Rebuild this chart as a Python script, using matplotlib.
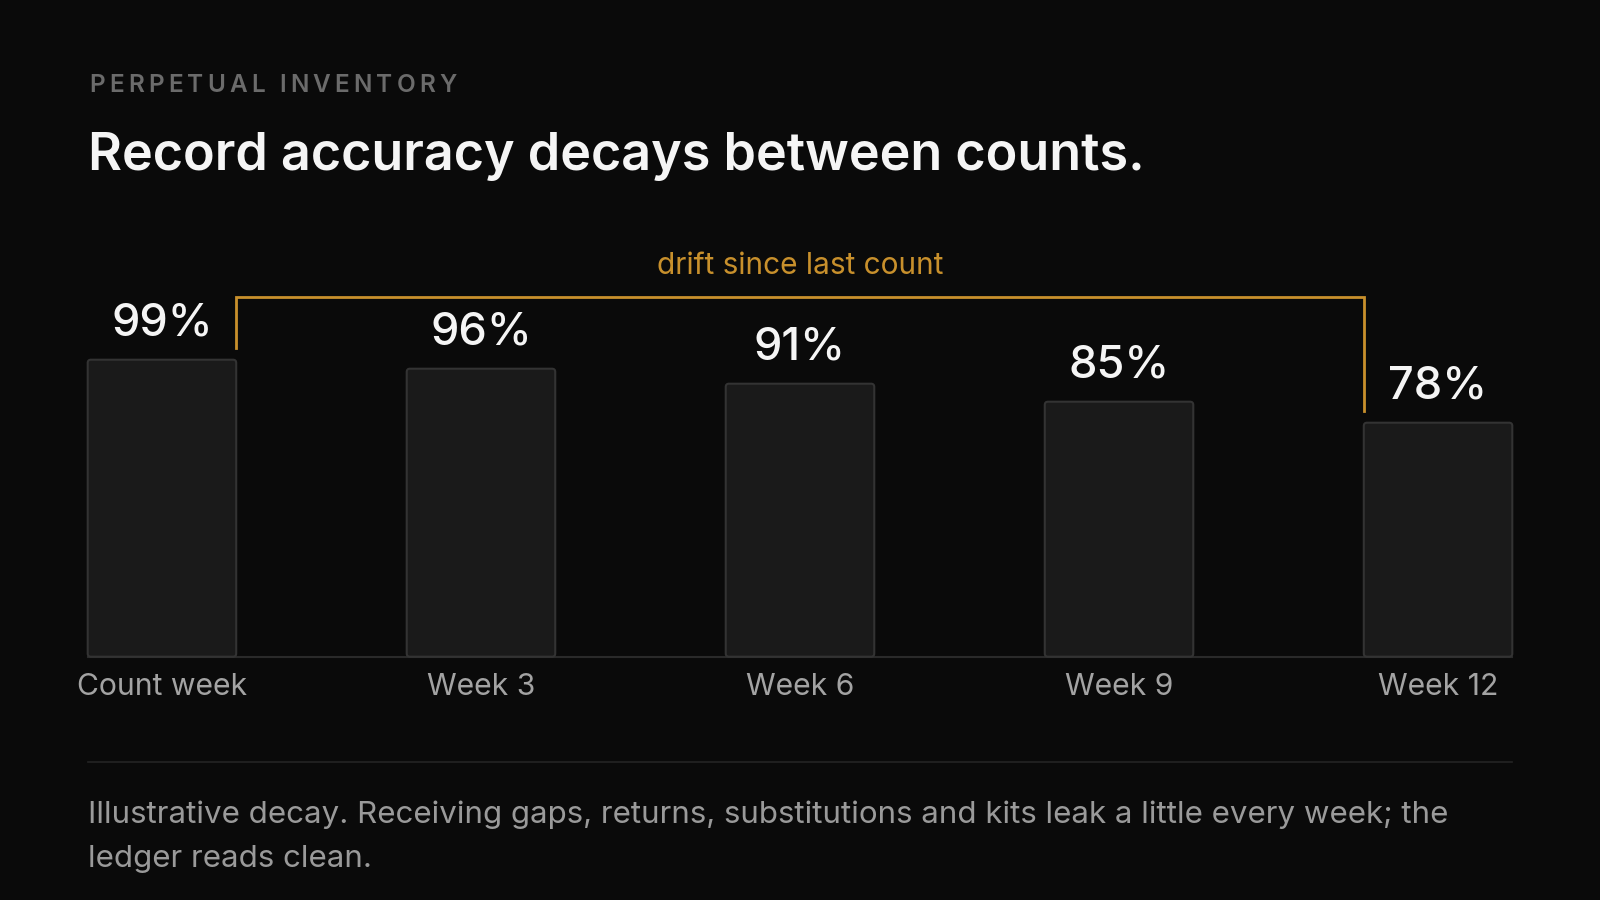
import matplotlib
matplotlib.use("Agg")
import matplotlib.pyplot as plt
from matplotlib.patches import FancyBboxPatch
from matplotlib.lines import Line2D

categories = ["Count week", "Week 3", "Week 6", "Week 9", "Week 12"]
accuracy = [99, 96, 91, 85, 78]
value_labels = ["99%", "96%", "91%", "85%", "78%"]
eyebrow = "PERPETUAL INVENTORY"
title = "Record accuracy decays between counts."
bracket_label = "drift since last count"
footnote_lines = [
    "Illustrative decay. Receiving gaps, returns, substitutions and kits leak a little every week; the",
    "ledger reads clean.",
]

BG = "#0a0a0a"
BAR = "#1a1a1a"
EDGE = "#333333"
GOLD = "#c8902c"
FONT = ["Inter", "DejaVu Sans"]

plt.rcParams["font.family"] = FONT

W, H = 1600, 900
fig = plt.figure(figsize=(16, 9), dpi=100, facecolor=BG)

def px(x, y):
    return x / W, 1 - y / H

left_px, right_px = 87.7, 1512.3
base_px, top_px = 656.7, 356.7
ax = fig.add_axes([left_px / W, 1 - base_px / H, (right_px - left_px) / W, (base_px - top_px) / H])
ax.set_facecolor(BG)
ax.patch.set_alpha(0)
for s in ax.spines.values():
    s.set_visible(False)
ax.set_xticks([])
ax.set_yticks([])

bw = 0.4655
n = len(categories)
ax.set_xlim(-bw / 2, n - 1 + bw / 2)
ax.set_ylim(0, 100)

# baseline
ax.plot([-bw / 2, n - 1 + bw / 2], [0, 0], color="#2a2a2a", lw=1.5, zorder=1, clip_on=False)

# data units per pixel: x = 4.4655/1424.6, y = 100/300
aspect = (100 / 300) / (4.4655 / 1424.6)
for i, v in enumerate(accuracy):
    p = FancyBboxPatch((i - bw / 2, 0), bw, v,
                       boxstyle="round,pad=0,rounding_size=0.01",
                       mutation_aspect=aspect,
                       facecolor=BAR, edgecolor=EDGE, lw=1.5, zorder=2, clip_on=False)
    ax.add_patch(p)
    ax.text(i, v + 8, value_labels[i], ha="center", va="baseline", color="#f5f5f5",
            fontsize=32.5, fontweight="medium", zorder=3, clip_on=False)
    ax.text(i, -12.8, categories[i], ha="center", va="baseline", color="#a3a3a3",
            fontsize=21.7, zorder=3, clip_on=False)

# bracket
x0 = 0 + bw / 2
x1 = n - 1 - bw / 2
yb = 120
ax.plot([x0, x0, x1, x1], [accuracy[0] + 4, yb, yb, accuracy[-1] + 4], color=GOLD, lw=2,
        solid_joinstyle="miter", clip_on=False, zorder=3)
ax.text((x0 + x1) / 2, 127.5, bracket_label, ha="center", va="baseline", color=GOLD,
        fontsize=21.5, clip_on=False)

# eyebrow with letter spacing
fig.canvas.draw()
renderer = fig.canvas.get_renderer()
fs_eb = 17.5
def textwidth(s):
    t = fig.text(0, 0, s + "I", fontsize=fs_eb, fontweight="semibold")
    w1 = t.get_window_extent(renderer).width
    t.remove()
    t = fig.text(0, 0, "I", fontsize=fs_eb, fontweight="semibold")
    w2 = t.get_window_extent(renderer).width
    t.remove()
    return w1 - w2
natural = textwidth(eyebrow)
target = 456.7 - 89.3
track = (target - natural) / (len(eyebrow) - 1)
for i, ch in enumerate(eyebrow):
    if ch == " ":
        continue
    xo = 89.3 + textwidth(eyebrow[:i]) + i * track
    fig.text(*px(xo, 91.7), ch, fontsize=fs_eb, fontweight="semibold", color="#6b6b6b",
             ha="left", va="baseline")

fig.text(*px(88, 170), title, fontsize=37.5, fontweight="semibold", color="#f5f5f5",
         ha="left", va="baseline")

fig.add_artist(Line2D([88 / W, 1512 / W], [1 - 761.7 / H] * 2, color="#242424", lw=1.2))

for k, line in enumerate(footnote_lines):
    fig.text(*px(88, 822.7 + 44 * k), line, fontsize=22.5, color="#9a9a9a",
             ha="left", va="baseline")

fig.savefig("out.png", dpi=100, facecolor=BG)
